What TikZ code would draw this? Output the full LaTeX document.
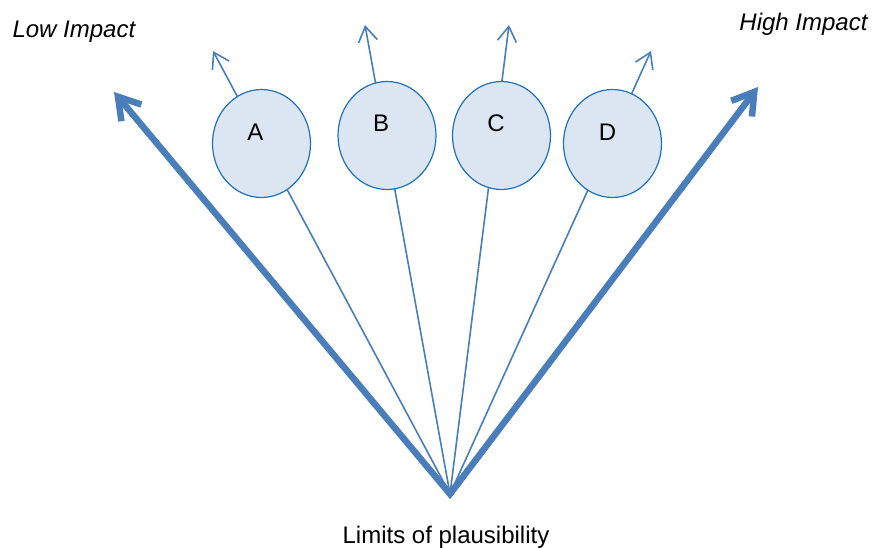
\documentclass[tikz,border=0pt]{standalone}
\usepackage{fontspec}
\setmainfont{Liberation Sans}
\usetikzlibrary{arrows.meta,shapes.geometric}
\definecolor{arrowblue}{HTML}{4A7EBB}
\definecolor{ringblue}{HTML}{1F72C0}
\definecolor{fillblue}{HTML}{DCE6F2}
\begin{document}
\begin{tikzpicture}[x=1pt,y=-1pt,
  thinarrow/.style={draw=arrowblue, line width=1.6pt, -{Straight Barb[length=15pt,width=19pt]}},
  thickarrow/.style={draw=arrowblue, line width=6.5pt, line join=miter,
     {Straight Barb[length=21pt,width=26pt]}-{Straight Barb[length=21pt,width=26pt]}},
  bubble/.style={ellipse, draw=ringblue, fill=fillblue, line width=1.2pt,
     minimum width=98pt, minimum height=108pt, inner sep=0pt},
  letter/.style={anchor=base, font=\fontsize{24}{28}\selectfont},
  caption/.style={font=\fontsize{24}{28}\selectfont},
]
\useasboundingbox (0,0) rectangle (875,548);
% points
\coordinate (o) at (450,494);
\coordinate (tl) at (114,92);
\coordinate (tr) at (758,87);
\coordinate (ta) at (213,51);
\coordinate (tb) at (365,25);
\coordinate (tc) at (509,25);
\coordinate (td) at (651,51);
% thin arrows
\draw[thinarrow] (o) -- (ta);
\draw[thinarrow] (o) -- (tb);
\draw[thinarrow] (o) -- (tc);
\draw[thinarrow] (o) -- (td);
% bubbles
\node[bubble] (A) at (261.5,143.5) {};
\node[bubble] (B) at (387,135.5) {};
\node[bubble] (C) at (501.5,135.5) {};
\node[bubble] (D) at (612.5,143.5) {};
\node[letter] (la) at (255.5,140.5) {A};
\node[letter] (lb) at (381,131.5) {B};
\node[letter] (lc) at (496,131.5) {C};
\node[letter] (ld) at (607.5,141) {D};
% thick arrows
\draw[thickarrow] (tl) -- (o) -- (tr);
% texts
\node[caption, anchor=base west, font=\fontsize{24}{28}\selectfont\itshape] (low) at (9,38) {Low Impact};
\node[caption, anchor=base east, font=\fontsize{24}{28}\selectfont\itshape] (high) at (871,31) {High Impact};
\node[caption, anchor=base] (lim) at (446,543) {Limits of plausibility};
\end{tikzpicture}
\end{document}
